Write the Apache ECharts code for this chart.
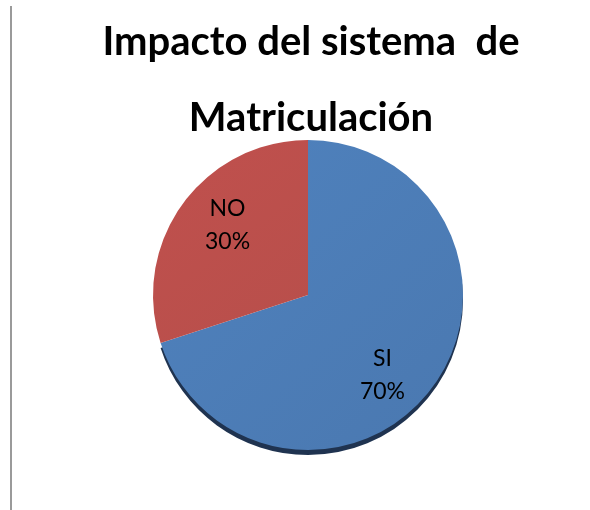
<!DOCTYPE html>
<html>
<head>
<meta charset="utf-8">
<script src="https://cdn.jsdelivr.net/npm/echarts@6/dist/echarts.min.js"></script>
<style>
html,body{margin:0;padding:0;background:#fff;}
#wrap{position:relative;width:590px;height:510px;}
#border{position:absolute;left:10px;top:6px;width:2px;height:504px;background:#9a9a9a;}
#chart{position:absolute;left:0;top:0;width:590px;height:510px;}
</style>
</head>
<body>
<div id="wrap"><div id="border"></div><div id="chart"></div></div>
<script>
const titleLines = ['Impacto del sistema  de', 'Matriculación'];
const categories = ['SI', 'NO'];
const values = [70, 30];

const chart = echarts.init(document.getElementById('chart'));
const cx = 308, cy = 295, R = 155;
chart.setOption({
  animation: false,
  title: {
    text: titleLines.join('\n'),
    left: 306, top: -1, textAlign: 'center',
    textStyle: { fontFamily: 'Lato', fontWeight: 'bold', fontSize: 40, lineHeight: 76, color: '#000' }
  },
  series: [{
    type: 'pie',
    center: [cx, cy],
    radius: R,
    startAngle: 90,
    clockwise: true,
    silent: true,
    label: {
      show: true, position: 'inside',
      formatter: p => p.name + '\n' + p.value + '%',
      fontFamily: 'Lato', fontSize: 23, lineHeight: 33, color: '#000'
    },
    labelLayout: function (p) {
      const r = p.labelRect;
      const lx = r.x + r.width / 2, ly = r.y + r.height / 2;
      const a = Math.atan2(-(ly - cy), lx - cx) - 8 * Math.PI / 180;
      const rr = 0.695 * R;
      const tx = cx + rr * Math.cos(a) - 3, ty = cy - rr * Math.sin(a) + 5;
      return { dx: tx - lx, dy: ty - ly };
    },
    data: categories.map((c, i) => ({
      name: c, value: values[i],
      itemStyle: i === 0 ? {
        color: new echarts.graphic.LinearGradient(0, 0, 1, 1, [
          { offset: 0, color: '#4f82be' }, { offset: 1, color: '#4a78b0' }]),
        shadowColor: '#1f3350', shadowOffsetY: 5, shadowBlur: 0
      } : {
        color: new echarts.graphic.LinearGradient(0, 0, 1, 1, [
          { offset: 0, color: '#c0504d' }, { offset: 1, color: '#b84f4b' }])
      }
    }))
  }]
});
</script>
</body>
</html>
